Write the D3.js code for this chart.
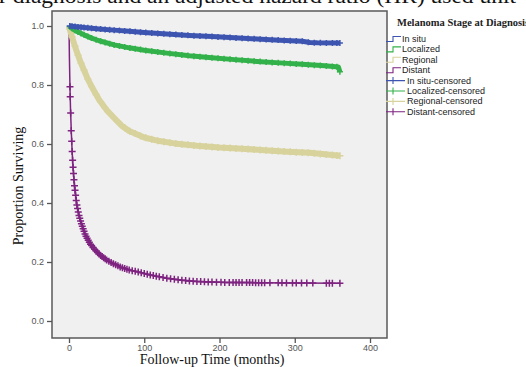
<!DOCTYPE html>
<html>
<head>
<meta charset="utf-8">
<script src="https://cdn.jsdelivr.net/npm/d3@7"></script>
<style>
  body { margin: 0; background: #fff; }
  svg { display: block; }
</style>
</head>
<body>
<svg id="chart" width="526" height="367"></svg>
<script>
// Kaplan-Meier curves (months, proportion surviving)
const groups = ['In situ', 'Localized', 'Regional', 'Distant'];
const colors = ['#3d55b0', '#33b14a', '#d8d29c', '#7e2380'];

const inSituTimes = [0, 20, 40, 60, 80, 100, 130, 160, 190, 220, 250, 280, 310, 320, 330, 360];
const inSituSurv  = [1.0, 0.995, 0.99, 0.986, 0.982, 0.978, 0.973, 0.968, 0.964, 0.96, 0.956, 0.952, 0.948, 0.944, 0.943, 0.942];

const localizedTimes = [0, 5, 10, 20, 30, 40, 60, 80, 100, 130, 160, 190, 220, 250, 280, 310, 340, 358, 360];
const localizedSurv  = [1.0, 0.99, 0.982, 0.97, 0.959, 0.95, 0.936, 0.926, 0.918, 0.908, 0.899, 0.892, 0.886, 0.88, 0.875, 0.87, 0.865, 0.861, 0.845];

const regionalTimes = [0, 2, 5, 10, 15, 20, 25, 30, 40, 50, 60, 70, 80, 100, 120, 140, 170, 200, 230, 260, 290, 320, 340, 360];
const regionalSurv  = [1.0, 0.98, 0.955, 0.915, 0.88, 0.85, 0.82, 0.795, 0.75, 0.715, 0.688, 0.662, 0.644, 0.622, 0.61, 0.602, 0.594, 0.588, 0.584, 0.579, 0.574, 0.57, 0.565, 0.56];

const distantTimes = [0, 0.5, 1, 1.5, 2, 3, 4, 5, 7, 10, 13, 17, 22, 28, 35, 42, 50, 60, 70, 80, 94, 110, 130, 150, 170, 200, 250, 300, 360];
const distantSurv  = [1.0, 0.9, 0.83, 0.77, 0.72, 0.645, 0.585, 0.535, 0.465, 0.4, 0.36, 0.325, 0.29, 0.262, 0.24, 0.222, 0.207, 0.193, 0.181, 0.173, 0.165, 0.155, 0.145, 0.138, 0.134, 0.131, 0.13, 0.129, 0.128];

// censoring times (the "+" marks)
const denseCensor = [1, 4, 8, 12, 16, 20, 25, 30, 36, 42, 48, 54, 60, 67, 74, 81, 88, 95, 102, 110, 118, 126, 134, 142, 150, 158, 166, 174, 182, 190, 198, 206, 214, 222, 230, 238, 246, 254, 262, 270, 278, 286, 294, 302, 310, 318, 326, 334, 342, 350, 356, 360];
const distantCensor = [1.3, 1.6, 2.2, 3, 3.6, 4.2, 4.8, 5.4, 6, 6.6, 7.3, 8, 8.8, 9.6, 10.5, 11.4, 12.3, 13.3, 14.3, 15.4, 16.5, 17.6, 18.8, 20, 21.3, 22.6, 24, 25.5, 27, 28.5, 30, 32, 34, 36, 38, 40, 42, 44, 46, 48, 50, 53, 56, 59, 62, 65, 68, 71, 74, 77, 80, 84, 88, 92, 96, 100, 104, 108, 112, 116, 120, 125, 130, 135, 140, 145, 150, 155, 160, 165, 170, 175, 180, 185, 190, 196, 202, 207, 213, 218, 222, 226, 230, 236, 240, 244, 248, 252, 256, 260, 267, 278, 283, 289, 297, 302, 309, 316, 324, 342, 346, 350, 360];

const xTicks = [0, 100, 200, 300, 400];
const yTicks = [0, 0.2, 0.4, 0.6, 0.8, 1.0];

const series = [
    { name: groups[0], color: colors[0], t: inSituTimes, s: inSituSurv, c: denseCensor, w: 5, r: 3 },
    { name: groups[1], color: colors[1], t: localizedTimes, s: localizedSurv, c: denseCensor, w: 5, r: 3 },
    { name: groups[2], color: colors[2], t: regionalTimes, s: regionalSurv, c: denseCensor, w: 6, r: 3.5 },
    { name: groups[3], color: colors[3], t: distantTimes, s: distantSurv, c: distantCensor, w: 1.5, r: 3.5 }
];

const svg = d3.select('#chart');

// cut-off line of body text above the figure
svg.append('text')
    .attr('x', -1)
    .attr('y', 3)
    .attr('textLength', 517)
    .attr('lengthAdjust', 'spacingAndGlyphs')
    .style('font-family', '"Liberation Serif", serif')
    .style('font-size', '21px')
    .style('fill', '#111')
    .text('r diagnosis and an adjusted hazard ratio (HR) used unit');

const frame = { left: 52, right: 387, top: 11, bottom: 338 };

const x = d3.scaleLinear().domain([0, 400]).range([69, 370]);
const y = d3.scaleLinear().domain([0, 1]).range([321, 26]);

svg.append('rect')
    .attr('x', frame.left)
    .attr('y', frame.top)
    .attr('width', frame.right - frame.left)
    .attr('height', frame.bottom - frame.top)
    .style('fill', '#f0f0f0')
    .style('stroke', '#5a5a5a')
    .style('stroke-width', 1.5);

// axes
const yAxis = svg.append('g')
    .attr('transform', `translate(${frame.left},0)`)
    .call(d3.axisLeft(y).tickValues(yTicks).tickFormat(d3.format('.1f')).tickSize(5).tickPadding(3));
const xAxis = svg.append('g')
    .attr('transform', `translate(0,${frame.bottom})`)
    .call(d3.axisBottom(x).tickValues(xTicks).tickSize(5).tickPadding(2));

[yAxis, xAxis].forEach(ax => {
    ax.select('.domain').remove();
    ax.selectAll('line').style('stroke', '#555').style('stroke-width', 1.3);
    ax.selectAll('text')
        .style('font-family', '"Liberation Sans", Arial, sans-serif')
        .style('font-size', '9px')
        .style('fill', '#555');
});

// curves
const line = d3.line()
    .x(d => x(d[0]))
    .y(d => y(d[1]));

function survAt(d, t) {
    for (let i = 1; i < d.t.length; i++) {
        if (t <= d.t[i]) {
            const f = (t - d.t[i - 1]) / (d.t[i] - d.t[i - 1]);
            return d.s[i - 1] + f * (d.s[i] - d.s[i - 1]);
        }
    }
    return d.s[d.s.length - 1];
}

const plusPath = r => `M${-r},0H${r}M0,${-r}V${r}`;

// draw back to front: distant first, in situ last
series.slice().reverse().forEach(d => {
    const g = svg.append('g');
    g.append('path')
        .datum(d.t.map((t, i) => [t, d.s[i]]))
        .attr('d', line)
        .style('fill', 'none')
        .style('stroke', d.color)
        .style('stroke-width', d.w)
        .style('stroke-linejoin', 'round');
    g.selectAll('.cens')
        .data(d.c)
        .enter().append('path')
        .attr('class', 'cens')
        .attr('transform', t => `translate(${x(t)},${y(survAt(d, t))})`)
        .attr('d', plusPath(d.r))
        .style('stroke', d.color)
        .style('stroke-width', 1.5);
});

// y label
svg.append('text')
    .attr('transform', 'translate(23,186) rotate(-90)')
    .attr('text-anchor', 'middle')
    .style('font-family', '"Liberation Serif", serif')
    .style('font-size', '14px')
    .style('fill', '#111')
    .text('Proportion Surviving');

// x label
svg.append('text')
    .attr('x', 212)
    .attr('y', 364)
    .attr('text-anchor', 'middle')
    .style('font-family', '"Liberation Serif", serif')
    .style('font-size', '14px')
    .style('fill', '#111')
    .text('Follow-up Time (months)');

// legend
const legend = svg.append('g');
legend.append('text')
    .attr('x', 397)
    .attr('y', 26)
    .style('font-family', '"Liberation Serif", serif')
    .style('font-size', '10.5px')
    .style('font-weight', 'bold')
    .style('fill', '#222')
    .text('Melanoma Stage at Diagnosis');

const legendItems = groups.map((g, i) => ({ label: g, color: colors[i], censored: false }))
    .concat(groups.map((g, i) => ({ label: g + '-censored', color: colors[i], censored: true })));

legendItems.forEach((d, i) => {
    const cy = 39 + i * 10.4;
    const item = legend.append('g').attr('transform', `translate(0,${cy})`);
    if (!d.censored) {
        item.append('path')
            .attr('d', 'M386,2.5H393V-2.5H401')
            .style('fill', 'none')
            .style('stroke', d.color)
            .style('stroke-width', 1.1);
    } else {
        item.append('path')
            .attr('d', 'M386,0H405M393,-3.5V3.5')
            .style('fill', 'none')
            .style('stroke', d.color)
            .style('stroke-width', 1.1);
    }
    item.append('text')
        .attr('x', d.censored ? 407 : 402)
        .attr('y', 3)
        .style('font-family', '"Liberation Sans", Arial, sans-serif')
        .style('font-size', '9px')
        .style('fill', '#222')
        .text(d.label);
});
</script>
</body>
</html>
